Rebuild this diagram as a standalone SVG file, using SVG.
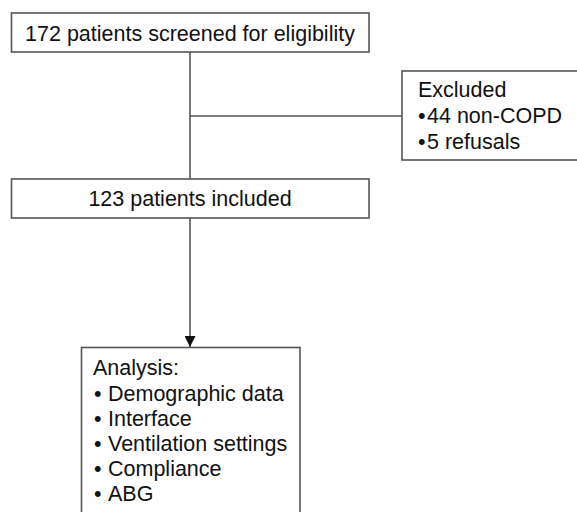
<svg xmlns="http://www.w3.org/2000/svg" width="577" height="512" viewBox="0 0 577 512">
<style>
.box{fill:#fff;stroke:#555;stroke-width:1.6}
.t{font-family:"Liberation Sans",Arial,sans-serif;font-size:21.5px;fill:#111}
.c{text-anchor:middle}
.ln{stroke:#555;stroke-width:1.6;fill:none}
</style>
<defs>
<marker id="arr" markerWidth="12" markerHeight="11" refX="11" refY="5.5" orient="auto" markerUnits="userSpaceOnUse">
<path d="M0,0 L11,5.5 L0,11 Z" fill="#111"/>
</marker>
</defs>
<g id="connectors">
<line class="ln" x1="190" y1="52" x2="190" y2="179"/>
<line class="ln" x1="190" y1="116" x2="402" y2="116"/>
<line class="ln" x1="190" y1="218" x2="190" y2="347" marker-end="url(#arr)"/>
</g>
<g id="screened">
<rect class="box" x="11.5" y="13" width="357.5" height="39"/>
<text class="t c" x="190" y="41">172 patients screened for eligibility</text>
</g>
<g id="excluded">
<rect class="box" x="402" y="71" width="180" height="89"/>
<text class="t" x="418" y="97">Excluded</text>
<text class="t" x="418" y="123">•<tspan x="427">44 non-COPD</tspan></text>
<text class="t" x="418" y="149">•<tspan x="427">5 refusals</tspan></text>
</g>
<g id="included">
<rect class="box" x="11.5" y="179" width="357.5" height="39"/>
<text class="t c" x="190" y="206">123 patients included</text>
</g>
<g id="analysis">
<rect class="box" x="81.5" y="347.5" width="218.5" height="175"/>
<text class="t" x="93" y="375">Analysis:</text>
<text class="t" x="94" y="401">•<tspan x="108">Demographic data</tspan></text>
<text class="t" x="94" y="426">•<tspan x="108">Interface</tspan></text>
<text class="t" x="94" y="451">•<tspan x="108">Ventilation settings</tspan></text>
<text class="t" x="94" y="476">•<tspan x="108">Compliance</tspan></text>
<text class="t" x="94" y="501">•<tspan x="108">ABG</tspan></text>
</g>
</svg>
